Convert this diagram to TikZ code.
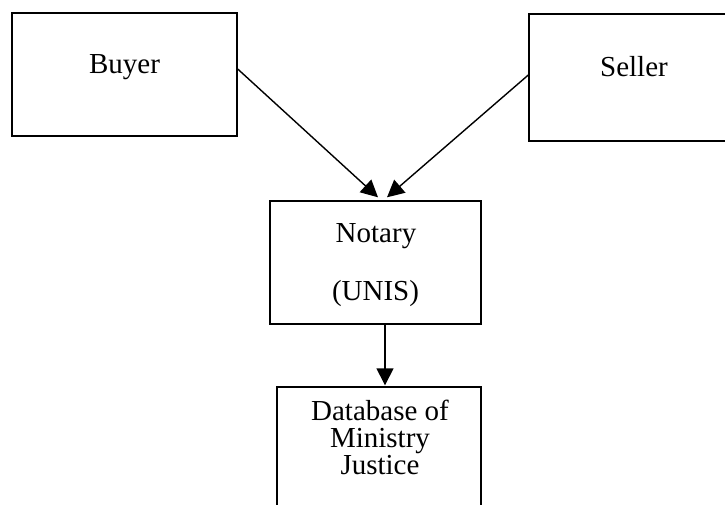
\documentclass[tikz,border=0pt]{standalone}
\usepackage{fontspec}
\setmainfont{Liberation Serif}
\usetikzlibrary{arrows.meta}
\begin{document}
\begin{tikzpicture}[x=1pt,y=-1pt,
  box/.style={draw,line width=1.4pt,rectangle,inner sep=0pt},
  lbl/.style={anchor=base,inner sep=0pt,font=\fontsize{29}{27}\selectfont,align=center},
  arr/.style={line width=1.4pt,-{Triangle[length=17pt,width=17pt]}}]
\useasboundingbox (0,0) rectangle (725,504);
\node[box,minimum width=225pt,minimum height=123pt] (buyer) at (124.5,74.5) {};
\node[box,minimum width=211pt,minimum height=127pt] (seller) at (634.5,77.5) {};
\node[box,minimum width=211pt,minimum height=123pt] (notary) at (375.5,262.5) {};
\node[box,minimum width=204pt,minimum height=133pt] (db) at (379,453.5) {};
\node[lbl] (buyerlbl) at (124.5,73) {Buyer};
\node[lbl] (sellerlbl) at (634,76) {Seller};
\node[lbl] (notarylbl) at (376,242) {Notary};
\node[lbl] (unislbl) at (375.5,300) {(UNIS)};
\node[lbl] (dblbl1) at (380,420) {Database of};
\node[lbl] (dblbl2) at (380,447) {Ministry};
\node[lbl] (dblbl3) at (380,474) {Justice};
\draw[arr] ([yshift=5.5pt]buyer.east) -- ([xshift=2.5pt,yshift=3pt]notary.north);
\draw[arr] ([yshift=2.5pt]seller.west) -- ([xshift=11.5pt,yshift=3pt]notary.north);
\draw[arr] ([xshift=9.5pt]notary.south) -- ([xshift=6pt,yshift=1pt]db.north);
\end{tikzpicture}
\end{document}
